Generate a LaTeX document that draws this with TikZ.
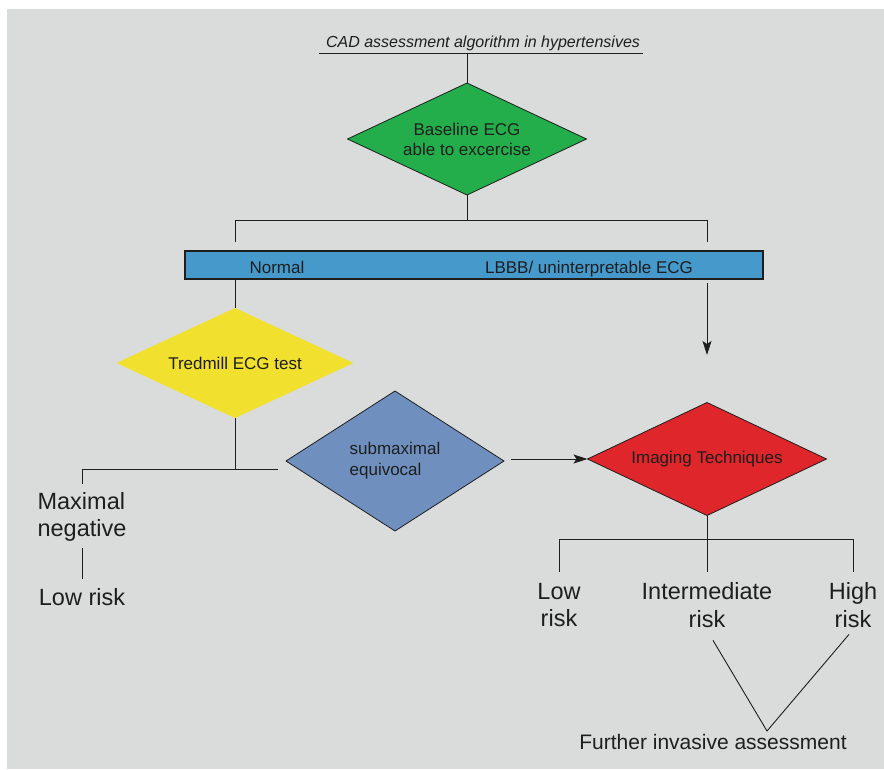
\documentclass[tikz,border=0pt]{standalone}
\usepackage{fontspec}
\setmainfont{Liberation Sans}
\usetikzlibrary{
  arrows.meta,
  calc,
  positioning,
  shapes,
}
\definecolor{bg}{HTML}{DADCDB}
\definecolor{ink}{HTML}{1E1E1E}
\definecolor{ecggreen}{HTML}{23AE4B}
\definecolor{barblue}{HTML}{4599CB}
\definecolor{tredyellow}{HTML}{F2E02E}
\definecolor{subblue}{HTML}{6F90BF}
\definecolor{imgred}{HTML}{DF262B}
\tikzset{
  x = 1pt,
  y = -1pt,
  l/.style={draw=ink, line width=0.9pt},
  arr/.style={l, -{Stealth[length=14pt, width=9pt, inset=3pt]}},
  dia/.style={
    diamond, aspect=2.13, draw=ink, line width=0.8pt, inner sep=0pt, outer sep=0pt,
    minimum width=239pt, minimum height=112pt, align=center,
    text=ink, font=\fontsize{17}{20}\selectfont,
  },
  lbl/.style={inner sep=0pt, outer sep=0pt, text=ink, font=\fontsize{17}{20}\selectfont},
  t/.style={
    inner sep=0pt, outer sep=0pt, align=center, text=ink,
    font=\fontsize{23.5}{27.5}\selectfont,
  },
}

\begin{document}
\begin{tikzpicture}
  \useasboundingbox (0,0) rectangle (884,770);
  \fill[bg] (7,9) rectangle (884,769);
  %%
  \node[lbl, anchor=base, font=\fontsize{16}{19}\selectfont\itshape] (Title) at (483,48)
    {CAD assessment algorithm in hypertensives};
  \coordinate (TitleL) at (319,53);
  \coordinate (TitleR) at (643,53);
  \draw[l] (TitleL) -- (TitleR);
  %%
  \node[dia, fill=ecggreen] (Base) at (467,139) {Baseline ECG\\able to excercise};
  \node[draw=ink, line width=1.2pt, fill=barblue, inner sep=0pt,
    minimum width=578pt, minimum height=28pt] (Bar) at (474,265) {};
  \node[lbl, anchor=base] (Norm) at (277,273) {Normal};
  \node[lbl, anchor=base] (Lbbb) at (589,273) {LBBB/ uninterpretable ECG};
  %%
  \node[dia, draw=none, fill=tredyellow, aspect=2.15, minimum width=237pt,
    minimum height=110pt] (Tred) at (235,363) {Tredmill ECG test};
  \node[dia, fill=subblue, aspect=1.56, minimum width=218pt, minimum height=140pt,
    align=left, font=\fontsize{17}{21}\selectfont] (Sub) at (395,461) {submaximal\\equivocal};
  \node[dia, fill=imgred, minimum height=113pt] (Img) at (707,459) {Imaging Techniques};
  %%
  \node[t, align=left] (Max) at (82,517) {Maximal\\negative};
  \node[t] (LowL) at (82,597) {Low risk};
  \node[t] (LowR) at (559,605) {Low\\risk};
  \node[t] (Int) at (707,605) {Intermediate\\risk};
  \node[t] (High) at (853,605) {High\\risk};
  \node[t, font=\fontsize{21}{25}\selectfont] (Fur) at (713,742) {Further invasive assessment};
  %%
  \draw[l] (Base.north |- TitleL) -- (Base.north);
  \draw[l] (Base.south) -- (Base.south |- 0,220);
  \draw[l] (Tred.north |- 0,242) -- (Tred.north |- 0,220)
    -- (Img.north |- 0,220) -- (Img.north |- 0,242);
  \draw[l] (Bar.south -| Tred.north) -- (Tred.north);
  \coordinate (LbbbEnd) at (707,355);
  \draw[arr] (Img.north |- 0,283) -- (LbbbEnd);
  %%
  \draw[l] (Tred.south) -- (Tred.south |- 0,469);
  \draw[l] ([yshift=8pt]Max.north) -- (Max.north |- 0,469)
    -- ([xshift=-8pt]Sub.west |- 0,469);
  \draw[l] ([yshift=-6pt]Max.south) -- ([yshift=9pt]LowL.north);
  %%
  \draw[arr] (Img.west -| Sub.east) ++(7,0) -- (Img.west);
  \draw[l] (Img.south) -- (Img.south |- 0,572);
  \draw[l] (LowR.north |- 0,572) -- (LowR.north |- 0,539)
    -- (High.north |- 0,539) -- (High.north |- 0,572);
  %%
  \coordinate (Apex) at (767,731);
  \draw[l] ([xshift=6pt, yshift=-13pt]Int.south) -- (Apex)
    -- ([xshift=-4pt, yshift=-7pt]High.south);
\end{tikzpicture}
\end{document}
